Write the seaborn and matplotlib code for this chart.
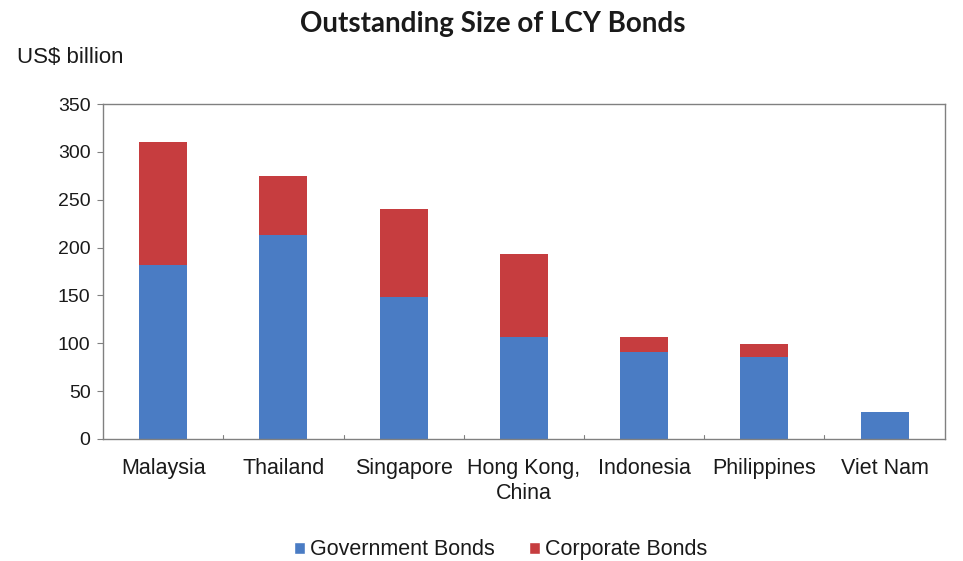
import matplotlib
matplotlib.use("Agg")
import matplotlib.pyplot as plt
from matplotlib.patches import Patch
import pandas as pd
import seaborn as sns

countries = ["Malaysia", "Thailand", "Singapore", "Hong Kong,\nChina",
             "Indonesia", "Philippines", "Viet Nam"]
government = [182, 213, 148, 107, 91, 86, 28]
corporate = [128, 62, 92, 86, 16, 13, 0.5]
y_ticks = [0, 50, 100, 150, 200, 250, 300, 350]

df = pd.DataFrame({"country": countries, "gov": government, "corp": corporate})
df["total"] = df["gov"] + df["corp"]

sns.set_style("white")
plt.rcParams["font.family"] = ["Liberation Sans", "DejaVu Sans"]

gov_color = "#4A7CC4"
corp_color = "#C63D3F"
text_color = "#1a1a1a"

fig = plt.figure(figsize=(9.63, 5.61), dpi=100)
ax = fig.add_axes([0.107, 0.2175, 0.874, 0.597])

sns.barplot(data=df, x="country", y="total", color=corp_color, width=0.4,
            saturation=1, linewidth=0, ax=ax)
sns.barplot(data=df, x="country", y="gov", color=gov_color, width=0.4,
            saturation=1, linewidth=0, ax=ax)

ax.set_ylim(0, 350)
ax.set_xlim(-0.5, len(countries) - 0.5)
ax.set_yticks(y_ticks)
ax.set_yticklabels([str(v) for v in y_ticks], fontsize=14, color=text_color)
ax.set_xticks(range(len(countries)))
ax.set_xticklabels(countries, fontsize=15.5, color=text_color,
                   linespacing=1.25)
ax.tick_params(axis="x", length=0, pad=14)
ax.tick_params(axis="y", length=4, width=0.8, color="#808080", left=True,
               direction="out", pad=5)
# category separators along the base
for i in range(len(countries) - 1):
    ax.plot([i + 0.5, i + 0.5], [0, 4], color="#808080", lw=0.8,
            clip_on=False)
ax.set_xlabel("")
ax.set_ylabel("")
for s in ax.spines.values():
    s.set_color("#808080")
    s.set_linewidth(1.0)

fig.text(0.512, 0.958, "Outstanding Size of LCY Bonds", ha="center",
         va="center", fontsize=20, fontweight="bold", family="Lato",
         color=text_color)
fig.text(0.018, 0.897, "US$ billion", ha="left", va="center", fontsize=16,
         color=text_color)

handles = [Patch(facecolor=gov_color, label="Government Bonds"),
           Patch(facecolor=corp_color, label="Corporate Bonds")]
fig.legend(handles=handles, loc="center", bbox_to_anchor=(0.52, 0.02),
           ncol=2, frameon=False, fontsize=15.5, handlelength=0.5,
           handleheight=0.5, handletextpad=0.25, columnspacing=1.6,
           labelcolor=text_color)

fig.savefig("out.png", dpi=100, facecolor="white")
